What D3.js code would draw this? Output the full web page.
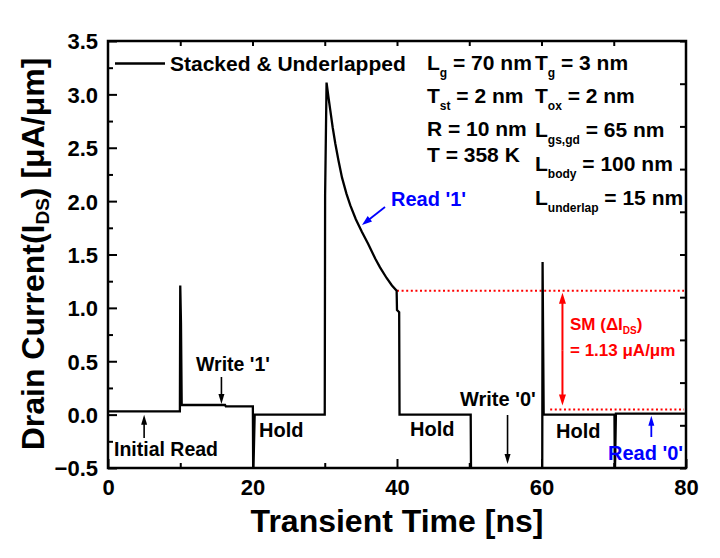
<!DOCTYPE html>
<html><head><meta charset="utf-8">
<script src="https://cdn.jsdelivr.net/npm/d3@7"></script>
<style>
body{margin:0;background:#fff;}
svg{display:block;background:#fff;}
text{font-family:"Liberation Sans",Arial,Helvetica,sans-serif;font-weight:bold;}
</style>
</head><body>
<svg id="chart" width="720" height="558"></svg>
<script>
// ---- data ----
const timeNs = [0, 9.95, 10.0, 10.1, 10.2, 16.2, 16.3, 20.05, 20.1, 20.3, 30.0, 30.05, 30.25, 30.5, 30.77, 31.1, 31.46, 31.9, 32.39, 33.0, 33.54, 34.3, 35.15, 36.0, 37.0, 37.65, 38.56, 39.3, 39.95, 40.0, 40.3, 40.35, 50.2, 50.25, 60.1, 60.15, 60.3, 70.1, 70.15, 70.3, 80];
const drainCurrent = [0.03, 0.03, 1.21, 0.86, 0.09, 0.09, 0.078, 0.078, -0.6, 0.0, 0.0, 2.05, 3.11, 2.98, 2.85, 2.69, 2.54, 2.38, 2.22, 2.07, 1.96, 1.83, 1.71, 1.60, 1.46, 1.38, 1.28, 1.21, 1.16, 0.98, 0.96, 0.0, 0.0, -0.6, -0.6, 1.43, 0.0, 0.0, -0.6, 0.01, 0.01];
const xTickValues = [0, 20, 40, 60, 80];
const xMinorValues = [10, 30, 50, 70];
const topTickValues = [10, 20, 30, 40, 50, 60, 70];
const yTickValues = [-0.5, 0.0, 0.5, 1.0, 1.5, 2.0, 2.5, 3.0, 3.5];
const yMinorValues = [-0.25, 0.25, 0.75, 1.25, 1.75, 2.25, 2.75, 3.25];
const rightTickValues = [0,1,2,3,4,5,6,7,8,9,10];
const smLevels = [1.16, 0.047];     // upper (Read '1'), lower (Read '0')
const smStartTimes = [40.0, 61.2];
const seriesName = "Stacked & Underlapped";
const paramsLeft = [["L","g"," = 70 nm"],["T","st"," = 2 nm"],["R = 10 nm","",""],["T = 358 K","",""]];
const paramsRight = [["T","g"," = 3 nm"],["T","ox"," = 2 nm"],["L","gs,gd"," = 65 nm"],["L","body"," = 100 nm"],["L","underlap"," = 15 nm"]];

// ---- layout ----
const svg = d3.select("#chart");
const L = 108, R = 686, T = 41, B = 468;
const x = d3.scaleLinear().domain([0, 80]).range([L, R]);
const y = d3.scaleLinear().domain([-0.5, 3.5]).range([B, T]);
const yR = d3.scaleLinear().domain([0, 10]).range([B, T]);

svg.append("defs").append("clipPath").attr("id","plotclip")
  .append("rect").attr("x", L).attr("y", T).attr("width", R-L).attr("height", B-T);

// ---- axes ----
function styleAxis(g){
  g.select(".domain").remove();
  g.selectAll(".tick line").attr("stroke","#000").attr("stroke-width",2);
}
const fs = 22;
svg.append("g").attr("transform",`translate(0,${B})`)
  .call(d3.axisBottom(x).tickValues(xTickValues).tickSize(-9).tickFormat(d3.format("d")))
  .call(styleAxis)
  .call(g => g.selectAll("text").attr("y", 27).attr("dy", 0).attr("font-size", fs).attr("fill","#000")
      .style("font-family",'"Liberation Sans",Arial,sans-serif').style("font-weight","bold"));
svg.append("g").attr("transform",`translate(0,${B})`)
  .call(d3.axisBottom(x).tickValues(xMinorValues).tickSize(-5).tickFormat(""))
  .call(styleAxis);
svg.append("g").attr("transform",`translate(${L},0)`)
  .call(d3.axisLeft(y).tickValues(yTickValues).tickSize(-9).tickPadding(10).tickFormat(d3.format(".1f")))
  .call(styleAxis)
  .call(g => g.selectAll("text").attr("dy","0.36em").attr("font-size", fs).attr("fill","#000")
      .style("font-family",'"Liberation Sans",Arial,sans-serif').style("font-weight","bold"));
svg.append("g").attr("transform",`translate(${L},0)`)
  .call(d3.axisLeft(y).tickValues(yMinorValues).tickSize(-5).tickFormat(""))
  .call(styleAxis);
svg.append("g").attr("transform",`translate(0,${T})`)
  .call(d3.axisTop(x).tickValues(topTickValues).tickSize(-5).tickFormat(""))
  .call(styleAxis);
svg.append("g").attr("transform",`translate(${R},0)`)
  .call(d3.axisRight(yR).tickValues(rightTickValues).tickSize(-6).tickFormat(""))
  .call(styleAxis);

svg.append("rect").attr("x", L).attr("y", T).attr("width", R-L).attr("height", B-T)
  .attr("fill","none").attr("stroke","#000").attr("stroke-width",2.5);

// ---- SM dotted lines ----
smLevels.forEach((v,i) => {
  svg.append("line").attr("x1", x(smStartTimes[i])).attr("x2", x(80)-2)
    .attr("y1", y(v)).attr("y2", y(v))
    .attr("stroke","#ff0000").attr("stroke-width",2).attr("stroke-dasharray","2,2.6");
});

// ---- curve ----
const pts = timeNs.map((t,i) => [t, drainCurrent[i]]);
svg.append("path").datum(pts)
  .attr("clip-path","url(#plotclip)")
  .attr("fill","none").attr("stroke","#000").attr("stroke-width",2.3).attr("stroke-linejoin","miter")
  .attr("d", d3.line().x(d => x(d[0])).y(d => y(d[1])));

// ---- arrows ----
function arrow(x1,y1,x2,y2,color,hl,hw,sw){
  const dx = x2-x1, dy = y2-y1, len = Math.hypot(dx,dy), ux = dx/len, uy = dy/len;
  const bx = x2-ux*hl, by = y2-uy*hl;
  svg.append("line").attr("x1",x1).attr("y1",y1).attr("x2",bx+ux*1).attr("y2",by+uy*1)
    .attr("stroke",color).attr("stroke-width",sw);
  svg.append("path").attr("fill",color)
    .attr("d",`M${x2},${y2}L${bx-uy*hw/2},${by+ux*hw/2}L${bx+uy*hw/2},${by-ux*hw/2}Z`);
}
arrow(x(5), 438, x(5), y(0.0), "#000", 10, 6, 1.6);          // Initial Read
arrow(x(15.7), 377, x(15.7), y(0.1), "#000", 10, 6, 1.6);    // Write '1'
arrow(x(55.3), 415, x(55.3), 464, "#000", 10, 6, 1.6);       // Write '0'
arrow(x(75.2), 437, x(75.2), y(0.0)+1, "#0000ff", 10, 6, 1.8); // Read '0'
arrow(385, 207, 362, 225, "#0000ff", 10, 7, 1.8);            // Read '1'
arrow(x(62.9), (y(smLevels[0])+y(smLevels[1]))/2, x(62.9), y(smLevels[0])+2, "#ff0000", 11, 7, 2);
arrow(x(62.9), (y(smLevels[0])+y(smLevels[1]))/2, x(62.9), y(smLevels[1])-4, "#ff0000", 11, 7, 2);

// ---- legend ----
svg.append("line").attr("x1",115).attr("x2",165).attr("y1",63.5).attr("y2",63.5)
  .attr("stroke","#000").attr("stroke-width",2.5);
svg.append("text").attr("x",170).attr("y",71).attr("font-size",21).text(seriesName);

// ---- parameter text ----
function subText(xp, yp, parts, size, subSize){
  const t = svg.append("text").attr("x",xp).attr("y",yp).attr("font-size",size);
  t.append("tspan").text(parts[0]);
  if (parts[1]) {
    t.append("tspan").attr("font-size",subSize).attr("dy",7).text(parts[1]);
    t.append("tspan").attr("dy",-7).text(parts[2]);
  }
  return t;
}
const leftY = [70, 103, 136, 162];
paramsLeft.forEach((p,i) => subText(427, leftY[i], p, 21, 12));
const rightY = [70, 103, 137, 171, 205];
paramsRight.forEach((p,i) => subText(535, rightY[i], p, 21, 12));

// ---- annotations ----
function label(xp, yp, s, size, color){
  return svg.append("text").attr("x",xp).attr("y",yp).attr("font-size",size).attr("fill",color||"#000").text(s);
}
label(114, 456, "Initial Read", 19.5);
label(196, 371, "Write '1'", 19.5);
label(259, 437, "Hold", 20);
label(410, 436, "Hold", 20);
label(556, 438, "Hold", 20);
label(460, 406, "Write '0'", 20);
label(391, 206, "Read '1'", 20, "#0000ff");
label(608, 460, "Read '0'", 20, "#0000ff");

const sm = svg.append("text").attr("x",570).attr("y",330).attr("font-size",17).attr("fill","#ff0000");
sm.append("tspan").text("SM (ΔI");
sm.append("tspan").attr("font-size",10).attr("dy",4).text("DS");
sm.append("tspan").attr("dy",-4).text(")");
label(570, 356, "= 1.13 μA/μm", 17, "#ff0000");

// ---- axis titles ----
svg.append("text").attr("x",397).attr("y",532).attr("text-anchor","middle").attr("font-size",32)
  .text("Transient Time [ns]");
const yt = svg.append("text").attr("transform","translate(44,254) rotate(-90)")
  .attr("text-anchor","middle").attr("font-size",32);
yt.append("tspan").text("Drain Current(I");
yt.append("tspan").attr("font-size",19).attr("dy",5).text("DS");
yt.append("tspan").attr("dy",-5).text(") [μA/μm]");
</script>
</body></html>
